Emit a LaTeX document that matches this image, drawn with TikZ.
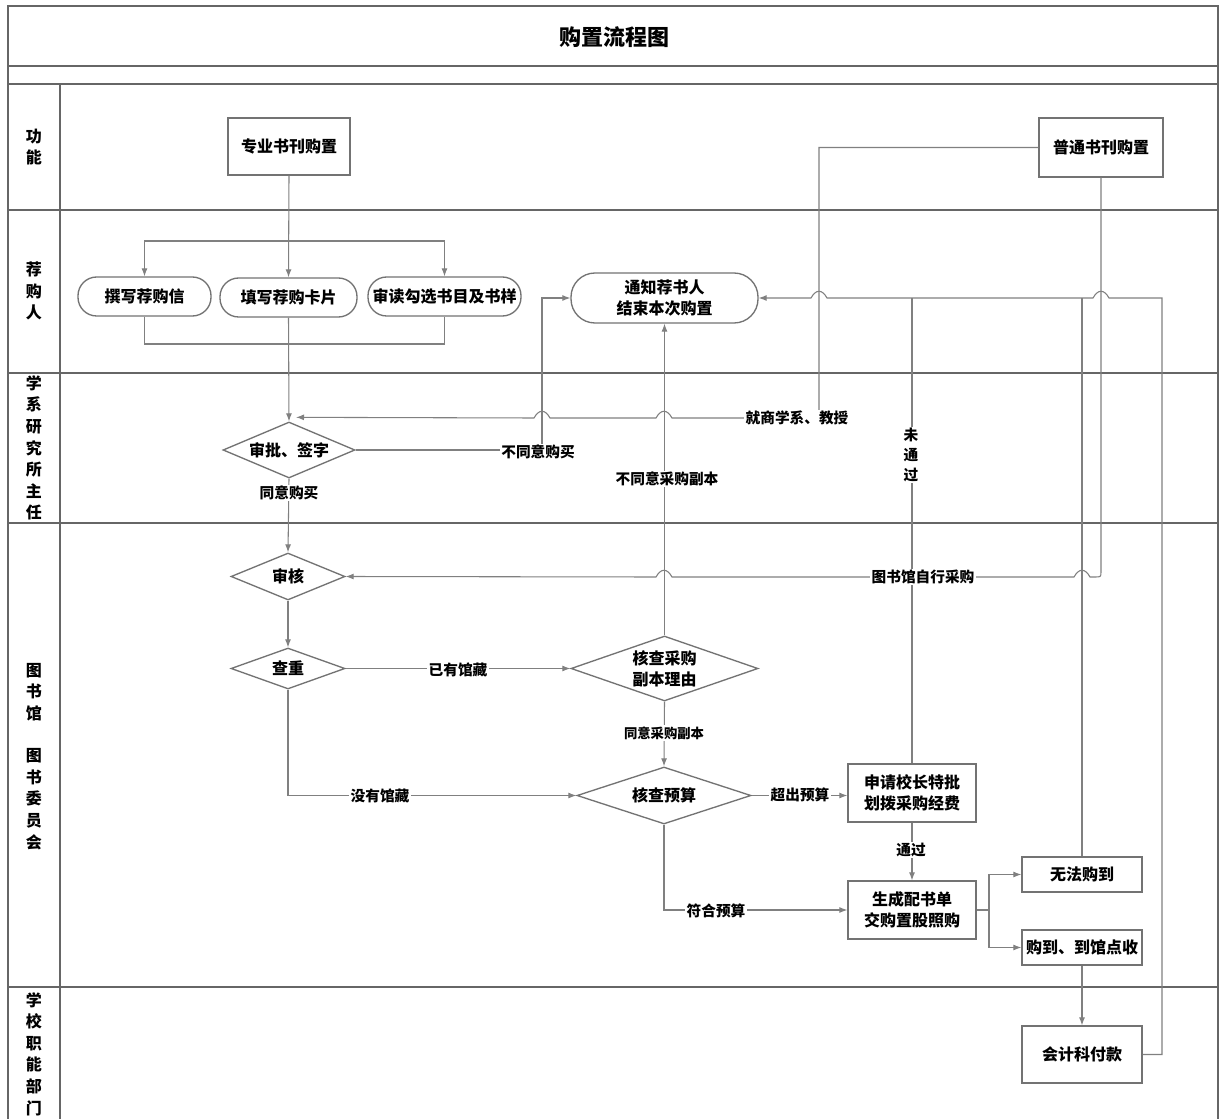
\documentclass[tikz,border=0pt]{standalone}
\usepackage{fontspec}
\setmainfont{Noto Sans CJK SC}
\usetikzlibrary{shapes.geometric,arrows.meta,calc}
\begin{document}
\begin{tikzpicture}[x=0.75pt,y=-0.75pt,
  every node/.style={font=\bfseries\fontsize{12}{16}\selectfont},
  lane/.style={draw=black!60, line width=1.2pt},
  conn/.style={draw=black!50, line width=0.8pt},
  arr/.style={conn, -{Latex[length=6pt,width=4.5pt]}},
  pbox/.style={draw=black!55, line width=1pt, rectangle, inner sep=0pt, align=center},
  rbox/.style={pbox, rounded corners=14pt},
  dbox/.style={draw=black!55, line width=1pt, diamond, inner sep=0pt, align=center},
  lbl/.style={fill=white, inner sep=1pt, font=\bfseries\fontsize{11}{15}\selectfont},
  slbl/.style={fill=white, inner sep=1pt, font=\bfseries\fontsize{10}{13}\selectfont},
  lanelbl/.style={align=center, inner sep=0pt, font=\bfseries\fontsize{12}{16.2}\selectfont}]
\useasboundingbox (0,0) rectangle (1220,1119);
\fill[white] (0,0) rectangle (1220,1119);
% frame and lanes
\draw[lane] (8,1119) -- (8,6) -- (1218,6) -- (1218,1119);
\foreach \yy in {66,84,210,373,523,987} \draw[lane] (8,\yy) -- (1218,\yy);
\draw[lane] (60,84) -- (60,1119);
\node[font=\bfseries\fontsize{16.5}{18}\selectfont] (title) at (614,37) {购置流程图};
% lane labels
\node[lanelbl] (l1) at (34,147) {功\\能};
\node[lanelbl] (l2) at (34,291) {荐\\购\\人};
\node[lanelbl] (l3) at (34,448) {学\\系\\研\\究\\所\\主\\任};
\node[lanelbl] (l4a) at (34,692) {图\\书\\馆};
\node[lanelbl] (l4b) at (34,799) {图\\书\\委\\员\\会};
\node[lanelbl] (l5) at (34,1054) {学\\校\\职\\能\\部\\门};
% nodes
\node[pbox, minimum width=91.5pt, minimum height=42.75pt] (zy) at (289,146.5) {专业书刊购置};
\node[pbox, minimum width=93pt, minimum height=44.25pt] (pt) at (1101,147.5) {普通书刊购置};
\node[rbox, minimum width=99.75pt, minimum height=29.25pt] (zx) at (144.5,296.5) {撰写荐购信};
\node[rbox, minimum width=102.75pt, minimum height=29.25pt] (tx) at (288.5,297.5) {填写荐购卡片};
\node[rbox, minimum width=114.75pt, minimum height=29.25pt] (sd) at (444.5,296.5) {审读勾选书目及书样};
\node[rbox, rounded corners=18pt, minimum width=140.25pt, minimum height=37.5pt] (tz) at (664.5,298) {通知荐书人\\结束本次购置};
\node[dbox, aspect=2.36, minimum width=99pt, minimum height=42pt] (sp) at (289,450) {审批、签字};
\node[dbox, aspect=2.43, minimum width=85.5pt, minimum height=35.25pt] (sh) at (288,576.5) {审核};
\node[dbox, aspect=2.78, minimum width=85.5pt, minimum height=30.75pt] (cc) at (288,668.5) {查重};
\node[dbox, aspect=2.88, minimum width=140.25pt, minimum height=48.75pt] (hcfb) at (664.5,668.5) {核查采购\\副本理由};
\node[dbox, aspect=3.05, minimum width=130.5pt, minimum height=42.75pt] (hcys) at (664,795.5) {核查预算};
\node[pbox, minimum width=96pt, minimum height=43.5pt] (sq) at (912,793) {申请校长特批\\划拨采购经费};
\node[pbox, minimum width=96pt, minimum height=43.5pt] (sc) at (912,910) {生成配书单\\交购置股照购};
\node[pbox, minimum width=90pt, minimum height=26.25pt] (wf) at (1082,874.5) {无法购到};
\node[pbox, minimum width=90pt, minimum height=26.25pt] (gd) at (1082,947.5) {购到、到馆点收};
\node[pbox, minimum width=90pt, minimum height=42.75pt] (kj) at (1082,1054.5) {会计科付款};
% coordinates
\coordinate (b1) at (289,241);
\coordinate (m1) at (289,344);
\coordinate (sj) at (989,910);
% connectors, top
\draw[arr] (zy.south) -- (tx.north);
\draw[arr] (b1) -| (zx.north);
\draw[arr] (b1) -| (sd.north);
\draw[conn] (zx.south) |- (m1) -| (sd.south);
\draw[arr] (tx.south) -- (sp.north);
% 就商学系、教授
\draw[arr] (pt.west) -| (819,418) -- (672,418) .. controls (667,409) and (661,409) .. (656,418)
  -- (550,418) .. controls (545,409) and (539,409) .. (534,418) -- ($(sp.north)+(7,-4)$);
\node[lbl] (ljs) at (797,418) {就商学系、教授};
% 不同意购买
\draw[arr] (sp.east) -- (542,450) |- (tz.west);
\node[lbl] (lbt) at (538,452) {不同意购买};
% 同意购买
\draw[arr] (sp.south) -- (sh.north);
\node[lbl] (lty) at (289,493) {同意购买};
% 不同意采购副本
\draw[arr] (hcfb.north) -- (tz.south);
\node[lbl] (lbc) at (667,479) {不同意采购副本};
% return line to 通知
\draw[arr] (kj.east) -- (1162,1054.5) -- (1162,298) -- (1109,298) .. controls (1104,289) and (1098,289) .. (1093,298)
  -- (827,298) .. controls (822,289) and (816,289) .. (811,298) -- (tz.east);
\draw[conn] (sq.north) -- (sq.north |- tz.east);
\draw[conn] (wf.north) -- (wf.north |- tz.east);
\node[lbl, align=center, font=\bfseries\fontsize{11}{15}\selectfont] (lwt) at (911,455) {未\\通\\过};
% 图书馆自行采购
\draw[arr] (pt.south) -- (1101,571) .. controls (1101,577) .. (1095,577) -- (1090,577)
  .. controls (1085,568) and (1079,568) .. (1074,577) -- (672,577)
  .. controls (667,568) and (661,568) .. (656,577) -- (sh.east);
\node[lbl] (lzx) at (923,577) {图书馆自行采购};
% library flow
\draw[arr] (sh.south) -- (cc.north);
\draw[arr] (cc.east) -- (hcfb.west);
\node[lbl] (lyy) at (458,670) {已有馆藏};
\draw[arr] (cc.south) |- (hcys.west);
\node[lbl] (lmy) at (380,796) {没有馆藏};
\draw[arr] (hcfb.south) -- (hcys.north);
\node[slbl] (lty2) at (664,733) {同意采购副本};
\draw[arr] (hcys.east) -- (sq.west |- hcys.east);
\node[lbl] (lcc) at (800,795) {超出预算};
\draw[arr] (sq.south) -- (sc.north);
\node[lbl] (ltg) at (911,850) {通过};
\draw[arr] (hcys.south) |- (sc.west);
\node[lbl] (lfh) at (716,911) {符合预算};
\draw[conn] (sc.east) -- (sj);
\draw[arr] (sj) |- (wf.west);
\draw[arr] (sj) |- (gd.west);
\draw[arr] (gd.south) -- (kj.north);
\end{tikzpicture}
\end{document}
